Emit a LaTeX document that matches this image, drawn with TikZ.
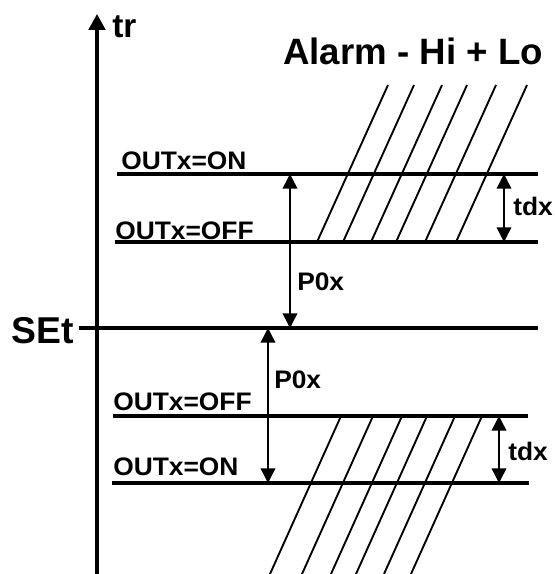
\documentclass[tikz,border=0pt]{standalone}
\usepackage{fontspec}
\setmainfont{Liberation Sans}
\usetikzlibrary{arrows.meta,positioning}

\tikzset{
  lbl/.style={inner sep=0pt, anchor=base west, font=\bfseries\fontsize{19pt}{19pt}\selectfont},
  level/.style={line width=2.3pt},
  dimarrow/.style={line width=1.1pt, {Triangle[width=11pt,length=11pt]}-{Triangle[width=11pt,length=11pt]}},
  hatch/.style={line width=1.4pt}
}
\newcommand{\wide}[1]{\scalebox{1.04}[1]{#1}}

\begin{document}
\begin{tikzpicture}[x=0.75pt,y=-0.75pt]
  \useasboundingbox (0,0) rectangle (555,574);

  % Axis
  \coordinate (axbot) at (97,574);
  \coordinate (axtop) at (97,14);
  \draw[line width=2.3pt, -{Triangle[width=12.5pt,length=12pt]}] (axbot) -- (axtop);
  \node[lbl, font=\bfseries\fontsize{25pt}{25pt}\selectfont] (tr) at (112,38) {tr};

  % Title
  \node[lbl, font=\bfseries\fontsize{27.5pt}{27.5pt}\selectfont] (title) at (283,65) {Alarm - Hi + Lo};

  % Set point
  \coordinate (setL) at (79,328);
  \coordinate (setR) at (538,328);
  \draw[level] (setL) -- (setR);
  \node[lbl, font=\bfseries\fontsize{28pt}{28pt}\selectfont] (set) at (11,343) {SEt};

  % Hi levels
  \coordinate (hionL) at (117,174);  \coordinate (hionR) at (538,174);
  \coordinate (hioffL) at (115,242); \coordinate (hioffR) at (538,242);
  \draw[level] (hionL) -- (hionR);
  \draw[level] (hioffL) -- (hioffR);
  \node[lbl] (hion) at (121,170) {\wide{OUTx=ON}};
  \node[lbl] (hioff) at (115,239) {\wide{OUTx=OFF}};

  % Lo levels
  \coordinate (looffL) at (113,416); \coordinate (looffR) at (528,416);
  \coordinate (loonL) at (112,483);  \coordinate (loonR) at (529,483);
  \draw[level] (looffL) -- (looffR);
  \draw[level] (loonL) -- (loonR);
  \node[lbl] (looff) at (113,410) {\wide{OUTx=OFF}};
  \node[lbl] (loon) at (113,475) {\wide{OUTx=ON}};

  % Hatching
  \foreach \xb in {317,343,371,396,425,456}
    \draw[hatch] (\xb,242) -- (\xb+71,85);
  \foreach \xt in {341,373,402,427,455,482}
    \draw[hatch] (\xt,416) -- (\xt-71,574);

  % Offsets
  \coordinate (p1a) at (290,174); \coordinate (p1b) at (290,328);
  \coordinate (p2a) at (268,328); \coordinate (p2b) at (268,483);
  \draw[dimarrow] (p1a) -- (p1b);
  \draw[dimarrow] (p2a) -- (p2b);
  \node[lbl] (p1) at (297,290) {\wide{P0x}};
  \node[lbl] (p2) at (274,388) {\wide{P0x}};

  % Hysteresis
  \coordinate (t1a) at (504,174); \coordinate (t1b) at (504,242);
  \coordinate (t2a) at (499,416); \coordinate (t2b) at (499,483);
  \draw[dimarrow] (t1a) -- (t1b);
  \draw[dimarrow] (t2a) -- (t2b);
  \node[lbl] (t1) at (513,215) {\wide{tdx}};
  \node[lbl] (t2) at (508,460) {\wide{tdx}};
\end{tikzpicture}
\end{document}
